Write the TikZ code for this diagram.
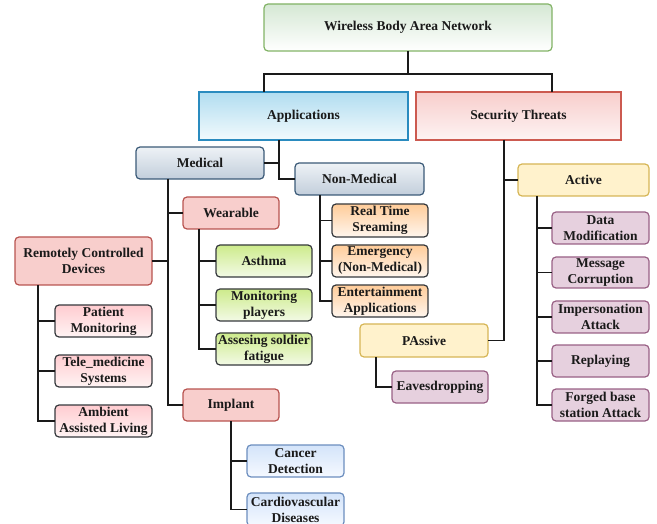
\documentclass[tikz,border=0pt]{standalone}
\usepackage{fontspec}
\setmainfont{Liberation Serif}
\definecolor{rootbd}{HTML}{82B366}
\definecolor{roottop}{HTML}{D5E8D4}
\definecolor{appbd}{HTML}{2A8BBF}
\definecolor{apptop}{HTML}{B1DDF0}
\definecolor{appbot}{HTML}{F2FAFD}
\definecolor{secbd}{HTML}{CC5A50}
\definecolor{sectop}{HTML}{F8CECC}
\definecolor{secbot}{HTML}{FDF3F3}
\definecolor{medbd}{HTML}{3B5A78}
\definecolor{medtop}{HTML}{EEF2F6}
\definecolor{medbot}{HTML}{C2CEDB}
\definecolor{redfill}{HTML}{F8CECC}
\definecolor{redbd}{HTML}{B85450}
\definecolor{leafbd}{HTML}{36393D}
\definecolor{grntop}{HTML}{CDEB8B}
\definecolor{grnbot}{HTML}{F3FAE6}
\definecolor{pnktop}{HTML}{FFCCD0}
\definecolor{pnkbot}{HTML}{FFF4F4}
\definecolor{orgtop}{HTML}{FFCC99}
\definecolor{orgbot}{HTML}{FFF6EE}
\definecolor{blutop}{HTML}{D4E4FA}
\definecolor{blubot}{HTML}{F5F9FF}
\definecolor{blubd}{HTML}{6C8EBF}
\definecolor{yelfill}{HTML}{FFF2CC}
\definecolor{yelbd}{HTML}{D6B656}
\definecolor{purfill}{HTML}{E6D0DE}
\definecolor{purbd}{HTML}{996185}
\definecolor{ink}{HTML}{1A1A1A}
\tikzset{
  box/.style={draw, line width=1.2pt, outer sep=0pt, inner sep=0pt, align=center,
    font=\fontsize{13.5}{16}\selectfont\bfseries, text=ink},
  rbox/.style={box, rounded corners=4pt},
  rootbox/.style={rbox, draw=rootbd, top color=roottop, bottom color=white},
  appbox/.style={box, draw=appbd, top color=apptop, bottom color=appbot},
  secbox/.style={box, draw=secbd, top color=sectop, bottom color=secbot},
  medbox/.style={rbox, draw=medbd, top color=medtop, bottom color=medbot},
  redbox/.style={rbox, draw=redbd, fill=redfill},
  grnbox/.style={rbox, draw=leafbd, top color=grntop, bottom color=grnbot},
  pnkbox/.style={rbox, draw=leafbd, top color=pnktop, bottom color=pnkbot},
  orgbox/.style={rbox, draw=leafbd, top color=orgtop, bottom color=orgbot},
  blubox/.style={rbox, draw=blubd, top color=blutop, bottom color=blubot},
  yelbox/.style={rbox, draw=yelbd, fill=yelfill},
  purbox/.style={rbox, draw=purbd, fill=purfill},
  link/.style={draw=ink, line width=1.3pt}
}
\newcommand\bx[7]{\node[#6, minimum width={(#4-#2)*1pt}, minimum height={(#5-#3)*1pt}] (#1) at ({(#2+#4)/2},{(#3+#5)/2}) {#7};}
\begin{document}
\begin{tikzpicture}[x=1pt,y=-1pt]
\useasboundingbox (0,0) rectangle (657,524);
% boxes
\bx{root}{264}{4}{552}{51}{rootbox}{Wireless Body Area Network}
\bx{apps}{199}{92}{408}{140}{appbox}{Applications}
\bx{sec}{416}{92}{621}{140}{secbox}{Security Threats}
\bx{medical}{136}{147}{264}{179}{medbox}{Medical}
\bx{nonmed}{295}{163}{424}{195}{medbox}{Non-Medical}
\bx{active}{518}{164}{649}{196}{yelbox}{Active}
\bx{wearable}{183}{197}{279}{229}{redbox}{Wearable}
\bx{remote}{15}{237}{152}{285}{redbox}{Remotely Controlled\\Devices}
\bx{asthma}{216}{245}{312}{277}{grnbox}{Asthma}
\bx{monitor}{216}{289}{312}{321}{grnbox}{Monitoring\\players}
\bx{fatigue}{216}{333}{312}{365}{grnbox}{Assesing soldier\\fatigue}
\bx{patient}{55}{305}{152}{337}{pnkbox}{Patient\\Monitoring}
\bx{tele}{55}{355}{152}{387}{pnkbox}{Tele\_medicine\\Systems}
\bx{ambient}{55}{405}{152}{437}{pnkbox}{Ambient\\Assisted Living}
\bx{implant}{183}{389}{279}{421}{redbox}{Implant}
\bx{cancer}{247}{445}{344}{477}{blubox}{Cancer\\Detection}
\bx{cardio}{247}{493}{344}{526}{blubox}{Cardiovascular\\Diseases}
\bx{realtime}{332}{204}{428}{237}{orgbox}{Real Time\\Sreaming}
\bx{emergency}{332}{245}{428}{277}{orgbox}{Emergency\\(Non-Medical)}
\bx{entertain}{332}{285}{428}{317}{orgbox}{Entertainment\\Applications}
\bx{passive}{360}{324}{488}{357}{yelbox}{PAssive}
\bx{eaves}{392}{371}{488}{403}{purbox}{Eavesdropping}
\bx{datamod}{552}{212}{649}{244}{purbox}{Data\\Modification}
\bx{msgcorr}{552}{257}{649}{288}{purbox}{Message\\Corruption}
\bx{imperson}{552}{301}{649}{333}{purbox}{Impersonation\\Attack}
\bx{replay}{552}{345}{649}{377}{purbox}{Replaying}
\bx{forged}{552}{389}{649}{421}{purbox}{Forged base\\station Attack}
% junction coordinates
\coordinate (rj) at (408,74);
\coordinate (av) at (279,0);
\coordinate (sv) at (504,0);
\coordinate (mv) at (168,0);
\coordinate (rv) at (38,0);
\coordinate (wv) at (199,0);
\coordinate (iv) at (231,0);
\coordinate (nv) at (320,0);
\coordinate (acv) at (537,0);
\coordinate (pv) at (376,0);
% connectors
\draw[link] (root.south) -- (rj);
\draw[link] (root.west |- apps.north) -- (root.west |- rj) -- (root.east |- rj) -- (root.east |- sec.north);
\draw[link] (apps.south -| av) -- (av |- nonmed.west) -- (nonmed.west);
\draw[link] (medical.east) -- (av |- medical.east);
\draw[link] (sec.south -| sv) -- (sv |- passive.east) -- (passive.east);
\draw[link] (sv |- active.west) -- (active.west);
\draw[link] (medical.south -| mv) -- (mv |- implant.west) -- (implant.west);
\draw[link] (mv |- wearable.west) -- (wearable.west);
\draw[link] (remote.east) -- (mv |- remote.east);
\draw[link] (remote.south -| rv) -- (rv |- ambient.west) -- (ambient.west);
\draw[link] (rv |- patient.west) -- (patient.west);
\draw[link] (rv |- tele.west) -- (tele.west);
\draw[link] (wearable.south -| wv) -- (wv |- fatigue.west) -- (fatigue.west);
\draw[link] (wv |- asthma.west) -- (asthma.west);
\draw[link] (wv |- monitor.west) -- (monitor.west);
\draw[link] (implant.south -| iv) -- (iv |- cardio.west) -- (cardio.west);
\draw[link] (iv |- cancer.west) -- (cancer.west);
\draw[link] (nonmed.south -| nv) -- (nv |- entertain.west) -- (entertain.west);
\draw[link] (nv |- realtime.west) -- (realtime.west);
\draw[link] (nv |- emergency.west) -- (emergency.west);
\draw[link] (active.south -| acv) -- (acv |- forged.west) -- (forged.west);
\draw[link] (acv |- datamod.west) -- (datamod.west);
\draw[link] (acv |- msgcorr.west) -- (msgcorr.west);
\draw[link] (acv |- imperson.west) -- (imperson.west);
\draw[link] (acv |- replay.west) -- (replay.west);
\draw[link] (passive.south -| pv) -- (pv |- eaves.west) -- (eaves.west);
\end{tikzpicture}
\end{document}
